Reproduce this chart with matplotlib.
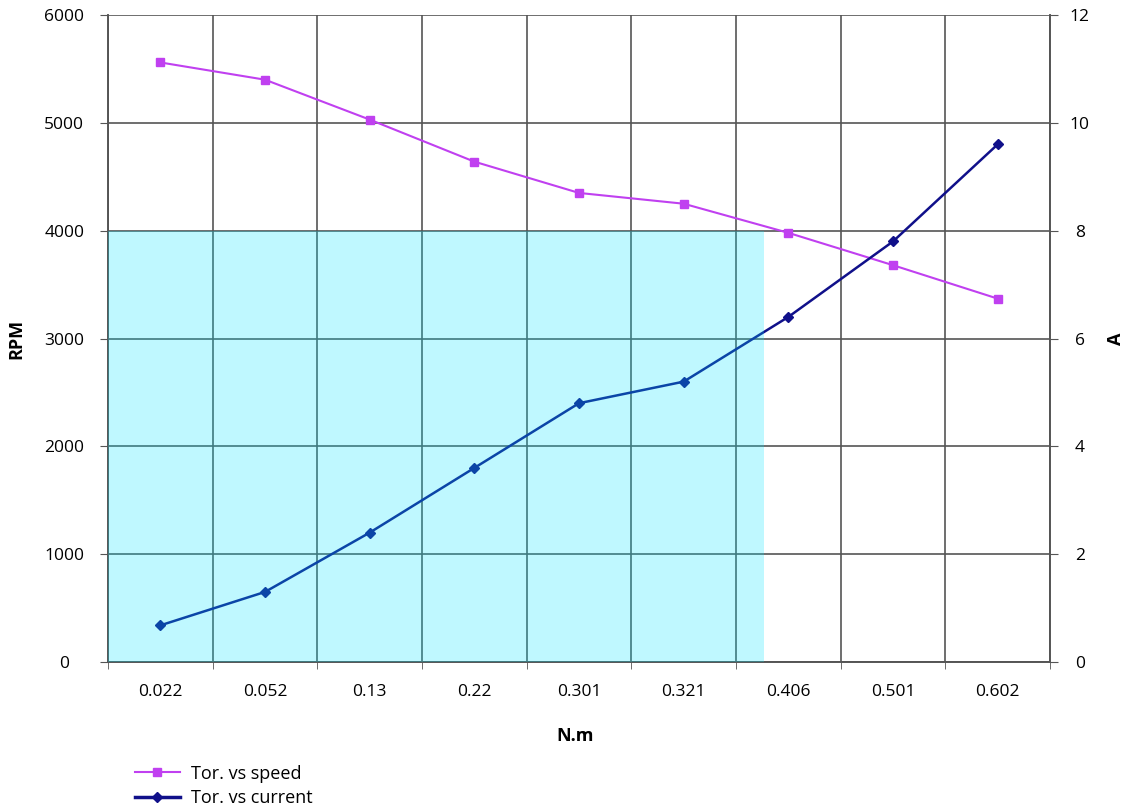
import matplotlib
matplotlib.use('Agg')
import matplotlib.pyplot as plt
from matplotlib.patches import Rectangle
from matplotlib.ticker import FixedLocator

plt.rcParams['font.family'] = ['Open Sans', 'DejaVu Sans']

# --- Dados ---
torque = ['0.022', '0.052', '0.13', '0.22', '0.301', '0.321', '0.406', '0.501', '0.602']
speed_rpm = [5560, 5400, 5030, 4640, 4350, 4250, 3980, 3680, 3370]
current_a = [0.68, 1.3, 2.4, 3.6, 4.8, 5.2, 6.4, 7.8, 9.6]

# zona sombreada (em unidades de categoria e RPM)
zona_fim = 5.77
zona_topo = 4000

cor_speed = '#c040f0'
cor_current = '#10108a'
cor_grade = '#555555'

fig = plt.figure(figsize=(11.29, 8.11), dpi=100)
ax = fig.add_axes([0.0957, 0.1837, 0.8343, 0.7978])
ax2 = ax.twinx()

x = list(range(len(torque)))

ax.plot(x, speed_rpm, color=cor_speed, marker='s', markersize=6, linewidth=1.5, zorder=3)
ax2.plot(x, current_a, color=cor_current, marker='D', markersize=5, linewidth=1.8, zorder=3)

# faixa ciano por cima das linhas (semi-transparente)
ax2.add_patch(Rectangle((-0.5, 0), zona_fim + 0.5, zona_topo / 500.0,
                        facecolor='#00e5ff', alpha=0.25, edgecolor='none', zorder=5))

ax.set_xlim(-0.5, len(torque) - 0.5)
ax.set_ylim(0, 6000)
ax2.set_ylim(0, 12)
ax.set_yticks(range(0, 6001, 1000))
ax2.set_yticks(range(0, 13, 2))

ax.set_xticks(x)
ax.set_xticklabels(torque)
ax.xaxis.set_minor_locator(FixedLocator([i - 0.5 for i in range(len(torque) + 1)]))
ax.tick_params(axis='x', which='major', length=0, pad=16)
ax.tick_params(axis='x', which='minor', length=5, color=cor_grade)
ax.tick_params(axis='y', length=6, color=cor_grade, pad=25.5)
ax2.tick_params(axis='y', length=6, color=cor_grade, pad=15.5)
for a in (ax, ax2):
    a.tick_params(labelsize=12.5)
for t in ax.get_yticklabels() + ax2.get_yticklabels():
    t.set_horizontalalignment('center')

ax.grid(True, which='minor', axis='x', color=cor_grade, linewidth=1.2)
ax.grid(True, which='major', axis='y', color=cor_grade, linewidth=1.2)
ax.set_axisbelow(True)

for a in (ax, ax2):
    for s in ['top', 'right', 'left', 'bottom']:
        a.spines[s].set_color(cor_grade)
        a.spines[s].set_linewidth(1.2)
ax.spines['top'].set_visible(False)
ax2.spines['top'].set_visible(False)

ax.set_xlabel('N.m', fontsize=13, fontweight='bold')
ax.set_ylabel('RPM', fontsize=13, fontweight='bold', va='center')
ax2.set_ylabel('A', fontsize=13, fontweight='bold', va='center')
ax.xaxis.set_label_coords(0.496, -0.10)
ax.yaxis.set_label_coords(-0.0977, 0.5)
ax2.yaxis.set_label_coords(1.0701, 0.5)

# legenda abaixo do gráfico
h1, = ax.plot([], [], color=cor_speed, marker='s', markersize=6, linewidth=1.5, label='Tor. vs speed')
h2, = ax.plot([], [], color=cor_current, marker='D', markersize=5, linewidth=2.5, label='Tor. vs current')
fig.legend(handles=[h1, h2], loc='upper left', bbox_to_anchor=(0.113, 0.066),
           frameon=False, fontsize=13, handlelength=2.5, labelspacing=0.35,
           borderaxespad=0, handletextpad=0.6)

fig.savefig('out.png', dpi=100)
